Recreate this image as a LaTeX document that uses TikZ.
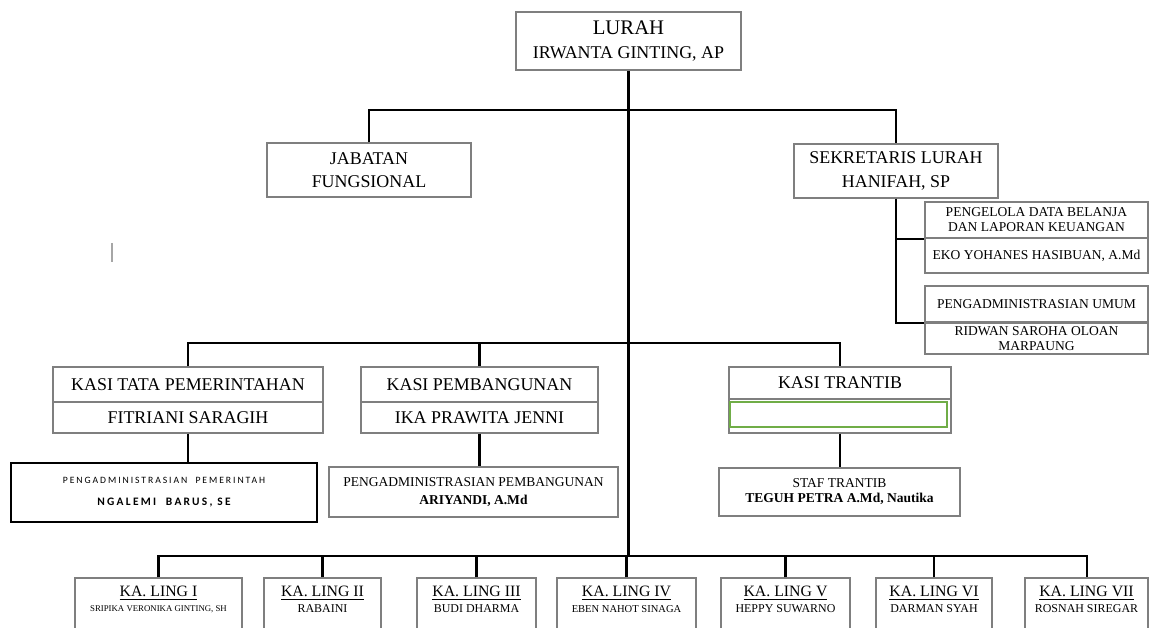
\documentclass[tikz,border=0pt]{standalone}
\usepackage{fontspec}
\setmainfont{Liberation Serif}
\newfontfamily\sansspaced[LetterSpace=20]{Carlito}
\usetikzlibrary{positioning}

\definecolor{boxgray}{HTML}{7F7F7F}
\definecolor{officegreen}{HTML}{70AD47}

\tikzset{
  box/.style={draw=boxgray, line width=0.7pt, inner sep=0pt, align=center,
    font=\fontsize{10.2}{13.4}\selectfont},
  subbox/.style={box, font=\fontsize{7.7}{8.6}\selectfont},
  blackbox/.style={box, draw=black, line width=1.3pt},
  greenbox/.style={draw=officegreen, line width=1pt, inner sep=0pt},
  lingbox/.style={box, minimum height=1.64cm},
  linghead/.style={inner sep=0pt, font=\fontsize{9}{10}\selectfont},
  lingname/.style={inner sep=0pt, font=\fontsize{6.8}{8}\selectfont},
  link/.style={draw=black, line width=1.15pt}
}

\begin{document}
\begin{tikzpicture}[x=0.02cm, y=-0.02cm]
		\useasboundingbox (0,0) rectangle (1150,628);
		\clip (0,0) rectangle (1150,628);
		
		% Levels of the bars
		\coordinate (bar1) at (0,110);
		\coordinate (bar2) at (0,343);
		\coordinate (bar3) at (0,556);
		\coordinate (lh) at (0,593);
		\coordinate (ln) at (0,609);
		
		% Head and secretary
		\node[box, minimum width=4.5cm, minimum height=1.16cm] (lurah) at (628.5,41) {{\fontsize{11.8}{13}\selectfont LURAH}\\IRWANTA GINTING, AP};
		\node[box, minimum width=4.08cm, minimum height=1.08cm] (jabatan) at (369,170) {JABATAN\\FUNGSIONAL};
		\node[box, minimum width=4.08cm, minimum height=1.08cm] (sekretaris) at (896,171) {SEKRETARIS LURAH\\HANIFAH, SP};
		
		% Secretary staff
		\node[subbox, minimum width=4.46cm, minimum height=0.72cm] (pengelola) at (1036.5,220) {PENGELOLA DATA BELANJA\\DAN LAPORAN KEUANGAN};
		\node[subbox, minimum width=4.46cm, minimum height=0.70cm] (eko) at (1036.5,255.5) {EKO YOHANES HASIBUAN, A.Md};
		\node[subbox, minimum width=4.46cm, minimum height=0.72cm] (umum) at (1036.5,304) {PENGADMINISTRASIAN UMUM};
		\node[subbox, minimum width=4.46cm, minimum height=0.62cm] (ridwan) at (1036.5,338.5) {RIDWAN SAROHA OLOAN\\MARPAUNG};
		
		% Section heads
		\node[box, minimum width=5.4cm, minimum height=0.70cm] (kasitata) at (188,384.5) {KASI TATA PEMERINTAHAN};
		\node[box, minimum width=5.4cm, minimum height=0.62cm] (fitriani) at (188,417.5) {FITRIANI SARAGIH};
		\node[box, minimum width=4.74cm, minimum height=0.70cm] (kasipemb) at (479.5,384.5) {KASI PEMBANGUNAN};
		\node[box, minimum width=4.74cm, minimum height=0.62cm] (ika) at (479.5,417.5) {IKA PRAWITA JENNI};
		\node[box, minimum width=4.44cm, minimum height=0.64cm] (kasitrantib) at (840,383) {KASI TRANTIB};
		\node[box, minimum width=4.44cm, minimum height=0.68cm] (trantibname) at (840,416) {};
		\node[greenbox, minimum width=4.34cm, minimum height=0.5cm] (trantibempty) at (838.5,414.5) {};
		
		% Section staff
		\node[blackbox, minimum width=6.12cm, minimum height=1.18cm] (admpem) at (164,492.5) {{\sansspaced\fontsize{5.5}{7}\selectfont PENGADMINISTRASIAN\ \ PEMERINTAH}\\[-1pt]{\sansspaced\bfseries\fontsize{6.5}{7}\selectfont NGALEMI\ \ BARUS, SE}};
		\node[subbox, minimum width=5.78cm, minimum height=1.0cm] (admpemb) at (473.5,492) {PENGADMINISTRASIAN PEMBANGUNAN\\[1.5pt]\textbf{ARIYANDI, A.Md}};
		\node[subbox, minimum width=4.82cm, minimum height=0.96cm] (staftrantib) at (839.5,492) {STAF TRANTIB\\\textbf{TEGUH PETRA A.Md, Nautika}};
		
		% Heads of neighbourhoods
		\node[lingbox, minimum width=3.34cm] (ling1) at (158.5,619) {};
		\node[lingbox, minimum width=2.34cm] (ling2) at (322.5,619) {};
		\node[lingbox, minimum width=2.38cm] (ling3) at (476.5,619) {};
		\node[lingbox, minimum width=2.78cm] (ling4) at (626.5,619) {};
		\node[lingbox, minimum width=2.58cm] (ling5) at (785.5,619) {};
		\node[lingbox, minimum width=2.32cm] (ling6) at (934,619) {};
		\node[lingbox, minimum width=2.46cm] (ling7) at (1086.5,619) {};
		
		\node[linghead] at (ling1.north |- lh) {\underline{KA. LING I}};
		\node[linghead] at (ling2.north |- lh) {\underline{KA. LING II}};
		\node[linghead] at (ling3.north |- lh) {\underline{KA. LING III}};
		\node[linghead] at (ling4.north |- lh) {\underline{KA. LING IV}};
		\node[linghead] at (ling5.north |- lh) {\underline{KA. LING V}};
		\node[linghead] at (ling6.north |- lh) {\underline{KA. LING VI}};
		\node[linghead] at (ling7.north |- lh) {\underline{KA. LING VII}};
		
		\node[lingname, font=\fontsize{5}{6}\selectfont] at (ling1.north |- ln) {SRIPIKA VERONIKA GINTING, SH};
		\node[lingname] at (ling2.north |- ln) {RABAINI};
		\node[lingname] at (ling3.north |- ln) {BUDI DHARMA};
		\node[lingname, font=\fontsize{6}{7}\selectfont] at (ling4.north |- ln) {EBEN NAHOT SINAGA};
		\node[lingname] at (ling5.north |- ln) {HEPPY SUWARNO};
		\node[lingname] at (ling6.north |- ln) {DARMAN SYAH};
		\node[lingname] at (ling7.north |- ln) {ROSNAH SIREGAR};
		
		% Connectors
		\draw[link] (lurah.south) -- (lurah.south |- bar3);
		\draw[link] (jabatan.north) -- (jabatan.north |- bar1) -- (sekretaris.north |- bar1) -- (sekretaris.north);
		\draw[link] (sekretaris.south) |- (pengelola.south west);
		\draw[link] (sekretaris.south) |- (umum.south west);
		
		\draw[link] (kasitata.north) -- (kasitata.north |- bar2) -- (kasitrantib.north |- bar2) -- (kasitrantib.north);
		\draw[link] (kasipemb.north) -- (kasipemb.north |- bar2);
		\draw[link] (fitriani.south) -- (fitriani.south |- admpem.north);
		\draw[link] (ika.south) -- (ika.south |- admpemb.north);
		\draw[link] (trantibname.south) -- (trantibname.south |- staftrantib.north);
		
		\draw[link] (ling1.north) -- (ling1.north |- bar3) -- (ling7.north |- bar3) -- (ling7.north);
		\draw[link] (ling2.north) -- (ling2.north |- bar3);
		\draw[link] (ling3.north) -- (ling3.north |- bar3);
		\draw[link] (ling4.north) -- (ling4.north |- bar3);
		\draw[link] (ling5.north) -- (ling5.north |- bar3);
		\draw[link] (ling6.north) -- (ling6.north |- bar3);
		
		% Stray text cursor mark
		\draw[gray!70, line width=0.6pt] (112,243) -- (112,262);
		
	\end{tikzpicture}
\end{document}
